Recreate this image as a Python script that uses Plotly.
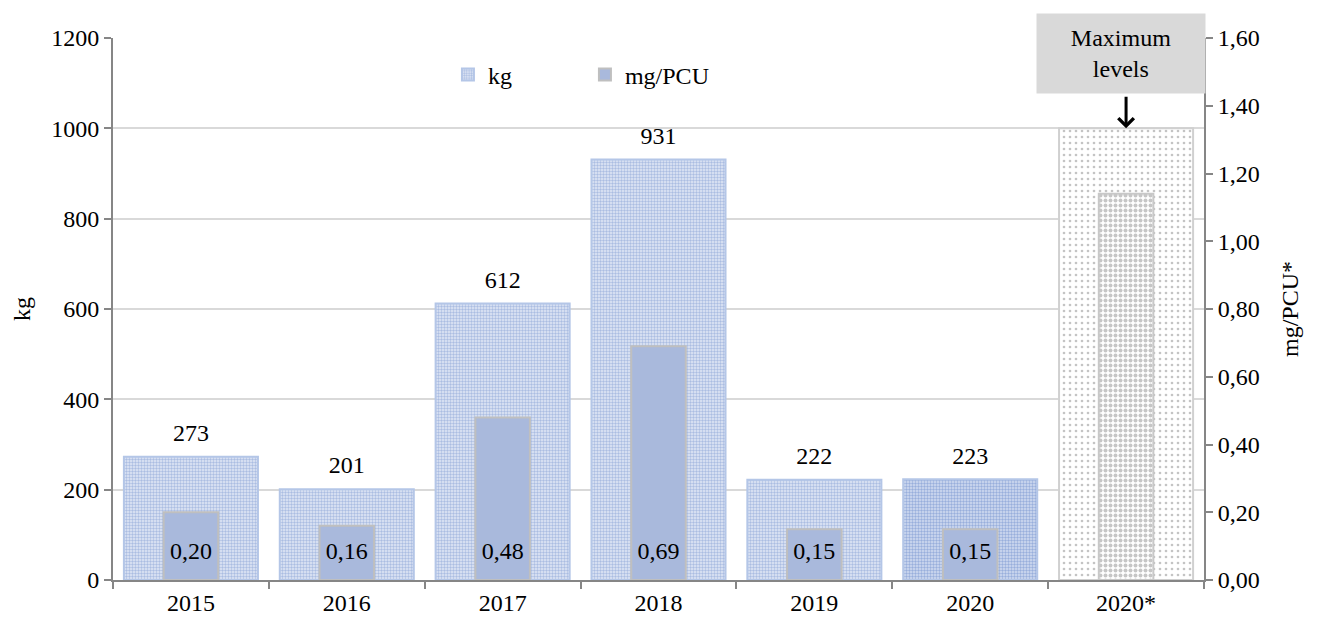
import plotly.graph_objects as go

categories = ["2015", "2016", "2017", "2018", "2019", "2020", "2020*"]
kg_values = [273, 201, 612, 931, 222, 223, 1000]
mg_values = [0.20, 0.16, 0.48, 0.69, 0.15, 0.15, 1.14]
kg_labels = ["273", "201", "612", "931", "222", "223", ""]
mg_labels = ["0,20", "0,16", "0,48", "0,69", "0,15", "0,15", ""]

FONT = "Liberation Serif, Times New Roman, serif"
FS = 24

# index groups: 2015-2019, 2020, 2020* (maximum levels)
g1 = slice(0, 5)
g2 = slice(5, 6)
g3 = slice(6, 7)

fig = go.Figure()


def kg_bar(sl, name, bg, fg, line, size, sol, legend):
    fig.add_trace(go.Bar(
        x=categories[sl], y=kg_values[sl], name=name, yaxis="y",
        width=0.86, showlegend=legend, legendgroup="kg",
        marker=dict(
            color=bg,
            line=dict(color=line, width=2),
            pattern=dict(shape=".", fgcolor=fg, bgcolor=bg,
                         size=size, solidity=sol, fillmode="replace"),
        ),
    ))


kg_bar(g1, "kg", "#e4eaf7", "#abbde2", "#b4c6e7", 3, 0.5, True)
kg_bar(g2, "kg", "#d5def2", "#98afdc", "#b4c6e7", 3, 0.5, False)
kg_bar(g3, "kg", "#ffffff", "#c4c4c4", "#d0d0d0", 6, 0.15, False)

fig.add_trace(go.Bar(
    x=categories[0:6], y=mg_values[0:6], name="mg/PCU", yaxis="y2",
    width=0.35, legendgroup="mg",
    marker=dict(color="#a9b9dc", line=dict(color="#bfbfbf", width=2)),
))
fig.add_trace(go.Bar(
    x=categories[g3], y=mg_values[g3], name="mg/PCU", yaxis="y2",
    width=0.35, showlegend=False, legendgroup="mg",
    marker=dict(
        color="#ffffff",
        line=dict(color="#c8c8c8", width=2),
        pattern=dict(shape=".", fgcolor="#c6c6c6", bgcolor="#ffffff",
                     size=5, solidity=0.5, fillmode="replace"),
    ),
))

# kg value labels above bars
fig.add_trace(go.Scatter(
    x=categories, y=kg_values, yaxis="y",
    mode="markers+text", text=kg_labels, textposition="top center",
    marker=dict(size=14, opacity=0),
    textfont=dict(family=FONT, size=FS, color="black"),
    showlegend=False, hoverinfo="skip", cliponaxis=False,
))

# mg value labels inside base of bars
fig.add_trace(go.Scatter(
    x=categories, y=[0.08] * len(categories), yaxis="y2",
    mode="text", text=mg_labels, textposition="middle center",
    textfont=dict(family=FONT, size=FS, color="black"),
    showlegend=False, hoverinfo="skip",
))

fig.add_annotation(
    x=0.924, y=0.9715, xref="paper", yref="paper",
    xanchor="center", yanchor="middle",
    text="Maximum<br>levels", showarrow=False,
    bgcolor="#d9d9d9", width=166, height=77,
    font=dict(family=FONT, size=FS, color="black"),
)
fig.add_annotation(
    x="2020*", y=kg_values[-1], xref="x", yref="y",
    text="", showarrow=True, ax=0, ay=-33,
    arrowhead=4, arrowsize=1, arrowwidth=3, arrowcolor="black", standoff=0,
)

axis_common = dict(
    showline=True, linecolor="#868686", linewidth=2,
    ticks="outside", tickcolor="#868686", ticklen=7, tickwidth=1.5,
    tickfont=dict(family=FONT, size=FS, color="black"),
)

fig.update_layout(
    width=1322, height=620,
    margin=dict(l=104, r=126, t=30, b=46),
    paper_bgcolor="white", plot_bgcolor="white",
    barmode="overlay",
    separators=",.",
    font=dict(family=FONT, size=FS, color="black"),
    xaxis=dict(**axis_common, type="category", tickson="boundaries",
               categoryorder="array", categoryarray=categories,
               showgrid=False),
    yaxis=dict(**axis_common, range=[0, 1200], dtick=200,
               showgrid=True, gridcolor="#d9d9d9", gridwidth=1.5,
               title=dict(text="kg", font=dict(family=FONT, size=FS), standoff=14),
               zeroline=False),
    yaxis2=dict(**axis_common, range=[0, 1.6], dtick=0.2, tickformat=".2f",
                overlaying="y", side="right", showgrid=False, zeroline=False,
                title=dict(text="mg/PCU*", font=dict(family=FONT, size=FS), standoff=22)),
    legend=dict(orientation="h", x=0.307, y=0.932, xanchor="left", yanchor="middle",
                font=dict(family=FONT, size=FS), entrywidth=92,
                bgcolor="rgba(0,0,0,0)"),
    showlegend=True,
)

fig.write_html("out.html")
